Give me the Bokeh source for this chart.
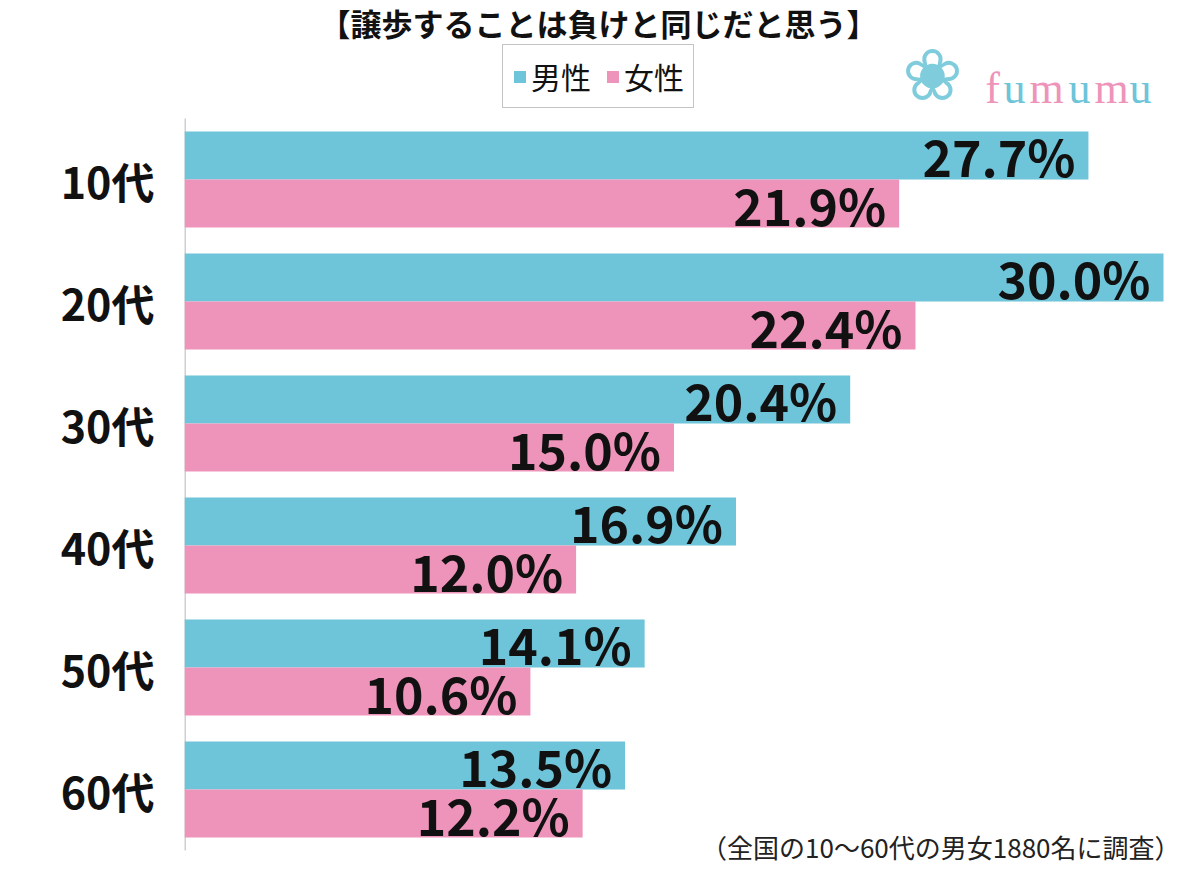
from bokeh.plotting import figure
from bokeh.models import (Range1d, FixedTicker, Label, Legend, LegendItem, ColumnDataSource)
from bokeh.core.properties import value
from bokeh.embed import file_html
from bokeh.resources import INLINE

categories = ["10代", "20代", "30代", "40代", "50代", "60代"]
male = [27.7, 30.0, 20.4, 16.9, 14.1, 13.5]
female = [21.9, 22.4, 15.0, 12.0, 10.6, 12.2]
series_names = ["男性", "女性"]
title_text = "【譲歩することは負けと同じだと思う】"
note_text = "（全国の10～60代の男女1880名に調査）"

MALE_C = "#6EC4D8"
FEMALE_C = "#EE93B9"
JP = "Noto Sans CJK JP"

W, H = 1200, 870
LEFT = 184
n = len(categories)
centers = [n - 0.5 - i for i in range(n)]
half = 0.197
bh = 0.393
px_per_x = 32.633
px_per_y = 122.0
bottom_px = 850   # pixel of y=0
x_end = (W - LEFT) / px_per_x
y_start = -(H - bottom_px) / px_per_y
y_end = bottom_px / px_per_y

src_m = ColumnDataSource(dict(y=[c + half for c in centers], v=male,
                              lab=[f"{v:.1f}%" for v in male]))
src_f = ColumnDataSource(dict(y=[c - half for c in centers], v=female,
                              lab=[f"{v:.1f}%" for v in female]))

p = figure(width=W, height=H, output_backend="svg", toolbar_location=None,
           x_range=Range1d(0, x_end), y_range=Range1d(y_start, y_end),
           min_border_left=LEFT, min_border_right=0, min_border_top=0,
           min_border_bottom=0)
p.outline_line_color = None
p.grid.visible = False
p.xaxis.visible = False
p.background_fill_color = "white"
p.border_fill_color = "white"

# axis line over the category area
p.segment(x0=[0], y0=[0], x1=[0], y1=[n], line_color="#cfcfcf", line_width=3)

rm = p.hbar(y="y", right="v", left=0, height=bh, source=src_m,
            fill_color=MALE_C, line_color=None)
rf = p.hbar(y="y", right="v", left=0, height=bh, source=src_f,
            fill_color=FEMALE_C, line_color=None)

for src in (src_m, src_f):
    p.text(x="v", y="y", text="lab", source=src, x_offset=-13,
           text_align="right", text_baseline="middle",
           text_font=value(JP), text_font_style="bold",
           text_font_size="50px", text_color="#111111")

ya = p.yaxis[0]
ya.ticker = FixedTicker(ticks=centers)
ya.major_label_overrides = {c: lab for c, lab in zip(centers, categories)}
ya.major_tick_line_color = None
ya.minor_tick_line_color = None
ya.axis_line_color = None
ya.major_label_text_font = JP
ya.major_label_text_font_style = "bold"
ya.major_label_text_font_size = "43px"
ya.major_label_text_color = "#111111"
ya.major_label_standoff = 24

legend = Legend(items=[LegendItem(label=series_names[0], renderers=[rm]),
                       LegendItem(label=series_names[1], renderers=[rf])],
                orientation="horizontal", location=(318, H - 108),
                glyph_width=15, glyph_height=15, label_standoff=4,
                spacing=14, padding=9, margin=0,
                label_text_font=JP, label_text_font_size="30px",
                label_text_color="#111111",
                border_line_color="#8a8a8a", border_line_width=1.5,
                background_fill_alpha=1.0)
p.add_layout(legend, "center")

p.add_layout(Label(x=598, y=22, x_units="canvas", y_units="canvas",
                   text=title_text, text_align="center", text_baseline="middle",
                   text_font=JP, text_font_style="bold", text_font_size="31px",
                   text_color="#111111"))

p.add_layout(Label(x=1180, y=846, x_units="canvas", y_units="canvas",
                   text=note_text, text_align="right", text_baseline="middle",
                   text_font=JP, text_font_size="26px", text_color="#222222"))

# logo
p.add_layout(Label(x=932, y=74, x_units="canvas", y_units="canvas",
                   text="❀", text_align="center", text_baseline="middle",
                   text_font="DejaVu Sans", text_font_size="72px",
                   text_color="#7FCCDC"))
logo_letters = ["f", "u", "m", "u", "m", "u"]
logo_x = [992, 1014, 1046, 1079, 1111, 1140]
logo_cols = ["#EE93B9", "#6EC4D8", "#EE93B9", "#6EC4D8", "#EE93B9", "#6EC4D8"]
for ch, lx, lc in zip(logo_letters, logo_x, logo_cols):
    p.add_layout(Label(x=lx, y=88, x_units="canvas", y_units="canvas",
                       text=ch, text_align="center", text_baseline="alphabetic",
                       text_font="Liberation Serif", text_font_size="44px",
                       text_color=lc))

open("out.html", "w").write(file_html(p, INLINE))
